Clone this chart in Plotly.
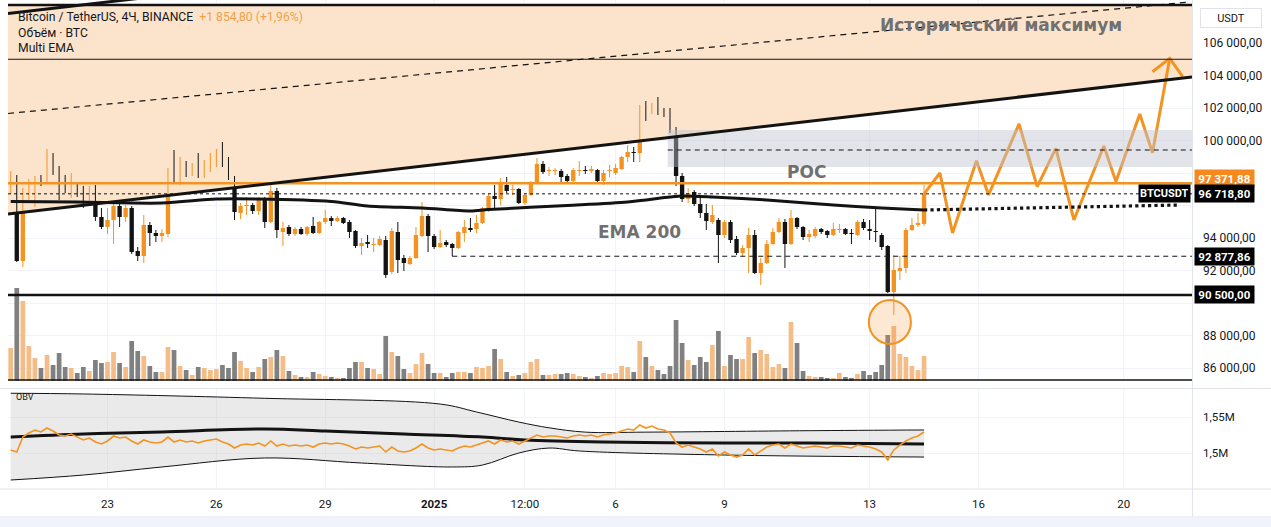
import plotly.graph_objects as go
import pandas as pd

# ---------------- DATA ----------------
start_time = "2024-12-20 08:00"
opens = [97016,97754,92585,96893,97016,97754,97385,98985,98247,97447,97201,97262,96954,96154,97016,95293,94677,95108,95970,95293,
         95847,93201,92893,94801,94308,94124,94247,98247,97385,98616,97939,98001,97816,98431,98985,99354,98924,97631,95539,95970,
         96031,95662,96462,94985,96893,94370,94677,94247,94554,94247,94739,94308,94985,95231,95047,95231,94985,94431,93508,93693,
         93570,93570,93877,91908,94370,92770,92401,92770,94124,95354,94124,93447,93754,93631,93385,94308,94616,94554,94924,95724,
         96585,96401,97262,96954,97016,96154,96647,97385,98554,98124,98124,98124,97816,97508,98124,98185,98124,98185,97508,98124,
         98001,98247,98985,99293,99231,102062,101693,102185,101693,101631,100770,97816,96401,96831,96093,95539,94985,95108,94185,94985,
         93939,93077,93385,94185,91847,92462,93631,94370,94985,93631,95231,94677,94062,94124,94554,94431,94185,94493,94554,94308,
         94185,94985,94493,94431,94185,93508,90677,91970,92154,94493,94801,94864]
highs = [98124,97877,97077,97631,97816,97877,99478,99231,98431,97877,98001,97385,97201,97201,97262,95847,95847,96093,96093,96031,
         95970,93447,95416,94985,94493,94554,98308,99416,98985,98739,98616,99231,98801,99231,99478,99908,98985,97816,96154,96524,
         96154,96524,96524,97447,97077,94985,94801,94677,94677,94739,95293,95047,95724,95354,95354,95293,95108,94493,94001,94185,
         94001,94124,94124,94616,94985,92954,92893,94677,96216,95477,94247,94493,93877,93693,94431,95108,95231,95416,95908,96770,
         97262,97693,97754,97262,97077,96770,97508,98924,98739,98370,98308,98247,97939,98308,98739,98431,98431,98247,98185,98493,
         98554,99047,99724,99601,102185,102431,102308,102678,102001,102001,100831,98001,97077,96954,96585,96093,96031,95231,95108,95108,
         94124,93570,94616,94493,92770,93877,94616,95231,95170,95724,95293,94739,94493,94677,94616,94493,94924,94862,94616,94554,
         95108,95170,95108,95847,94308,93570,92954,92893,94616,95231,95539,97262]
lows = [96708,92524,92216,96339,95908,97201,97324,97877,96339,96770,96462,96524,95847,96031,95047,94554,94247,93631,94677,94985,
        93016,92585,92462,93508,93754,93754,94062,97385,97262,97754,97816,97693,97693,98062,98370,98370,97570,95108,95170,95416,
        95477,95416,94616,94924,94001,93508,94124,94124,94185,94124,94247,94247,94862,94739,94985,94862,94001,93385,92954,93385,
        93139,93508,91539,91785,91847,91970,92339,92708,94062,93139,93324,93385,93447,92877.86,93324,93754,94370,94308,94862,95601,
        95847,96031,96770,96647,96093,96031,96585,97324,97939,97816,97877,97447,97447,97447,97816,97939,98001,97447,97262,97754,
        97877,98185,98678,98678,98678,101201,101631,101570,101447,100462,97201,96216,96154,95970,95231,94493,94862,92462,94001,93693,
        92954,92893,91847,91785,91108,92401,93570,94308,92154,93570,94554,93877,93754,94001,94247,94001,94124,94308,94185,93631,
        94124,94493,93877,93754,93262,90616,89260,91416,91847,94431,94677,94739]
closes = [97754,92585,96954,97139,97754,97385,98985,98124,97385,97201,97324,96893,96154,97016,95293,94677,95108,95970,95293,95847,
          93139,92893,94801,94308,94124,94308,98247,97447,98616,97939,98001,97816,98493,98985,99354,98924,97631,95601,95970,96031,
          95662,96401,94985,96893,94493,94616,94247,94554,94247,94677,94308,94985,95231,95047,95231,94924,94370,93508,93693,93631,
          93631,93939,91724,94431,92647,92462,92770,94185,95354,94124,93447,93693,93570,93385,94370,94677,94493,94924,95847,96585,
          96401,97385,96893,97016,96154,96647,97385,98554,98062,98185,98185,97754,97508,98185,98185,98124,98247,97508,98001,98185,
          98308,98985,99293,99231,102124,101693,102185,101631,101631,100770,97816,96401,96770,96093,95539,95047,95416,94185,94985,93877,
          93077,93385,94185,91847,92462,93631,94370,94985,93631,95231,94677,94062,94247,94554,94370,94185,94554,94554,94247,94247,
          94985,94616,94431,94370,93447,90677,92031,92154,94493,94801,94864,96718.8]
# volume, thousands of BTC
volumes_k = [6.6,18.6,16.0,7.0,4.6,2.6,5.2,3.2,5.6,2.8,2.6,1.6,2.8,2.0,4.2,3.6,3.8,5.8,3.6,2.8,
             8.0,6.0,5.0,3.0,1.8,1.8,6.8,6.2,3.0,2.2,1.2,2.8,2.6,2.2,2.4,3.2,2.6,5.8,4.0,2.6,
             1.8,2.8,4.4,4.8,6.2,5.0,2.0,1.2,0.8,0.8,1.8,1.4,1.0,0.8,0.6,0.6,2.6,3.8,3.8,2.6,
             2.4,1.4,9.0,5.8,5.0,2.4,1.6,3.4,5.6,3.4,1.6,1.6,0.8,1.6,1.8,1.8,1.6,2.8,2.6,3.0,
             6.4,4.4,1.8,1.0,1.2,1.6,3.8,4.4,1.2,1.2,1.4,1.4,1.6,1.4,1.0,0.8,0.6,1.0,1.6,1.4,
             1.6,3.0,2.8,1.8,8.0,4.8,3.0,2.2,1.4,3.0,12.2,7.6,4.2,3.2,4.8,3.8,7.2,10.0,3.0,5.2,
             4.4,4.4,8.8,5.6,6.2,5.4,2.8,3.4,2.6,11.8,7.6,2.0,1.0,0.8,0.8,0.6,0.6,1.6,0.8,0.6,
             1.4,2.0,1.2,1.8,3.2,9.2,11.0,5.4,4.8,3.0,2.2,5.0]
# OBV, millions
obv_m = [1.5042,1.5014,1.5222,1.5278,1.5319,1.5292,1.5347,1.5306,1.5250,1.5236,1.5264,1.5222,1.5181,1.5208,1.5153,1.5125,1.5167,1.5236,1.5208,1.5222,
         1.5167,1.5125,1.5181,1.5153,1.5139,1.5153,1.5222,1.5153,1.5181,1.5153,1.5167,1.5139,1.5167,1.5181,1.5194,1.5153,1.5125,1.5069,1.5111,1.5125,
         1.5111,1.5139,1.5097,1.5167,1.5097,1.5125,1.5097,1.5111,1.5097,1.5111,1.5083,1.5125,1.5139,1.5125,1.5139,1.5125,1.5097,1.5056,1.5083,1.5069,
         1.5083,1.5097,1.5014,1.5083,1.5028,1.5014,1.5028,1.5069,1.5125,1.5069,1.5042,1.5056,1.5042,1.5028,1.5069,1.5097,1.5083,1.5111,1.5139,1.5167,
         1.5125,1.5181,1.5153,1.5167,1.5125,1.5167,1.5208,1.5250,1.5222,1.5236,1.5236,1.5222,1.5208,1.5236,1.5250,1.5236,1.5250,1.5222,1.5250,1.5264,
         1.5278,1.5306,1.5333,1.5319,1.5389,1.5347,1.5375,1.5333,1.5319,1.5278,1.5139,1.5083,1.5111,1.5083,1.5056,1.5014,1.5056,1.4958,1.5014,1.4972,
         1.4944,1.4972,1.5056,1.4972,1.5028,1.5083,1.5111,1.5125,1.5069,1.5125,1.5097,1.5069,1.5083,1.5097,1.5083,1.5069,1.5097,1.5097,1.5083,1.5069,
         1.5111,1.5097,1.5083,1.5056,1.5014,1.4903,1.5042,1.5111,1.5167,1.5208,1.5236,1.5292]
# OBV band (candle index, value in M)
band_up_idx = [0, 12, 42, 71, 77, 84, 89, 95, 105, 132, 151]
band_up_val = [1.583, 1.582, 1.576, 1.568, 1.557, 1.543, 1.535, 1.529, 1.529, 1.531, 1.532]
band_lo_idx = [0, 12, 25, 42, 58, 73, 78, 84, 89, 94, 118, 151]
band_lo_val = [1.4625, 1.4694, 1.4806, 1.4931, 1.4861, 1.4806, 1.4833, 1.500, 1.5069, 1.5028, 1.4972, 1.4944]
band_mid_idx = [0, 12, 25, 42, 52, 65, 78, 85, 98, 118, 132, 151]
band_mid_val = [1.5222, 1.5264, 1.5292, 1.5333, 1.5306, 1.5264, 1.5222, 1.5181, 1.5153, 1.5139, 1.5139, 1.5125]
# EMA 200 (candle index, price)
ema_idx = [0, 11, 25, 34, 41, 53, 59, 68, 76, 79, 92, 102, 109, 111, 116, 125, 136, 144, 151]
ema_val = [96246, 96216, 96154, 96400, 96400, 96246, 95969, 95846, 95662, 95754, 96000, 96216, 96523, 96585, 96523, 96339, 96031, 95846, 95723]
# forecast zigzag
zig_t = ["2025-01-14 12:00", "2025-01-14 22:30", "2025-01-15 06:50", "2025-01-15 22:40", "2025-01-16 06:40",
         "2025-01-17 02:50", "2025-01-17 14:50", "2025-01-18 03:10", "2025-01-18 15:05", "2025-01-19 10:55",
         "2025-01-19 18:55", "2025-01-20 10:40", "2025-01-20 19:05", "2025-01-21 06:30"]
zig_p = [96720, 98000, 94310, 98760, 96650, 101020, 97160, 99520, 95110, 99660, 97470, 101630, 99250, 105060]
arrow_t = ["2025-01-20 19:05", "2025-01-21 06:30", "2025-01-21 15:00"]
arrow_p = [104230, 105060, 103930]
# price levels
ath_price = 108340
level_105 = 105000
level_orange = 97371.88
last_price = 96718.80
support_1 = 92877.86
support_2 = 90500.00
poc_low, poc_mid, poc_high = 98370, 99416, 100647
# axis ticks
price_ticks = [86000, 88000, 90000, 92000, 94000, 96000, 98000, 100000, 102000, 104000, 106000]
hidden_ticks = [90000, 96000, 98000]   # covered by the price labels in the original
time_ticks = ["2024-12-23", "2024-12-26", "2024-12-29", "2025-01-01", "2025-01-03 12:00",
              "2025-01-06", "2025-01-09", "2025-01-13", "2025-01-16", "2025-01-20"]
time_labels = ["23", "26", "29", "<b>2025</b>", "12:00", "6", "9", "13", "16", "20"]

# ---------------- STYLE ----------------
ORANGE = "#F39322"
BLACK = "#131313"
VOL_UP = "#F4BC86"
VOL_DN = "#808080"
PEACH = "#FCE4CC"
GRID = "#F0F3FA"
TEXT = "#131722"
GRAYTXT = "#707070"
FONT = "Roboto"

X_LEFT = "2024-12-20 06:12"
X_RIGHT = "2025-01-21 21:12"
H4 = 4 * 3600 * 1000

times = pd.date_range(start_time, periods=len(opens), freq="4h")
W, H = 1271, 527
ML, MR, MT, MB = 8, 79, 0, 39
PW, PH = W - ML - MR, H - MT - MB


def px(x):
    return (x - ML) / PW


def py(y):
    return 1 - (y - MT) / PH


fig = go.Figure()

# peach zone above rising trendline
tr_p0, tr_p1 = 95477, 103908
fig.add_trace(go.Scatter(x=[X_LEFT, X_RIGHT, X_RIGHT, X_LEFT], y=[tr_p0, tr_p1, ath_price, ath_price],
                         mode="lines", fill="toself", fillcolor=PEACH, line=dict(width=0),
                         hoverinfo="skip", xaxis="x", yaxis="y"))

# candles: wicks
up = [c >= o for o, c in zip(opens, closes)]
for flag, col in [(True, ORANGE), (False, BLACK)]:
    wx, wy = [], []
    for i, t in enumerate(times):
        if up[i] == flag:
            wx += [t, t, None]
            wy += [lows[i], highs[i], None]
    fig.add_trace(go.Scatter(x=wx, y=wy, mode="lines", line=dict(color=col, width=1),
                             hoverinfo="skip", xaxis="x", yaxis="y"))
# candles: bodies
for flag, col in [(True, ORANGE), (False, BLACK)]:
    bx = [t for i, t in enumerate(times) if up[i] == flag]
    bb = [min(opens[i], closes[i]) for i in range(len(times)) if up[i] == flag]
    bh = [max(abs(closes[i] - opens[i]), 40) for i in range(len(times)) if up[i] == flag]
    fig.add_trace(go.Bar(x=bx, y=bh, base=bb, width=0.72 * H4, marker=dict(color=col, line=dict(width=0)),
                         hoverinfo="skip", xaxis="x", yaxis="y"))

# EMA 200
fig.add_trace(go.Scatter(x=[times[i] for i in ema_idx], y=ema_val, mode="lines",
                         line=dict(color=BLACK, width=3, shape="spline", smoothing=0.8),
                         hoverinfo="skip", xaxis="x", yaxis="y"))
# forecast zigzag
fig.add_trace(go.Scatter(x=zig_t, y=zig_p, mode="lines", line=dict(color=ORANGE, width=3),
                         hoverinfo="skip", xaxis="x", yaxis="y"))
fig.add_trace(go.Scatter(x=arrow_t, y=arrow_p, mode="lines", line=dict(color=ORANGE, width=3),
                         hoverinfo="skip", xaxis="x", yaxis="y"))

# volume
vcols = [VOL_UP if u else VOL_DN for u in up]
fig.add_trace(go.Bar(x=times, y=volumes_k, width=0.78 * H4, marker=dict(color=vcols, line=dict(width=0)),
                     hoverinfo="skip", xaxis="x", yaxis="y2"))

# OBV band
fig.add_trace(go.Scatter(x=[times[i] for i in band_up_idx], y=band_up_val, mode="lines",
                         line=dict(color=BLACK, width=1, shape="spline"), hoverinfo="skip", xaxis="x2", yaxis="y3"))
fig.add_trace(go.Scatter(x=[times[i] for i in band_lo_idx], y=band_lo_val, mode="lines",
                         line=dict(color=BLACK, width=1, shape="spline"), fill="tonexty",
                         fillcolor="rgba(190,190,190,0.33)", hoverinfo="skip", xaxis="x2", yaxis="y3"))
fig.add_trace(go.Scatter(x=[times[i] for i in band_mid_idx], y=band_mid_val, mode="lines",
                         line=dict(color=BLACK, width=3, shape="spline"), hoverinfo="skip", xaxis="x2", yaxis="y3"))
fig.add_trace(go.Scatter(x=times, y=obv_m, mode="lines", line=dict(color=ORANGE, width=1.6),
                         hoverinfo="skip", xaxis="x2", yaxis="y3"))

# ---------------- SHAPES ----------------
shapes = []


def hline(p, color=BLACK, width=1, dash="solid", x0=X_LEFT, x1=X_RIGHT, layer="above"):
    shapes.append(dict(type="line", xref="x", yref="y", x0=x0, x1=x1, y0=p, y1=p,
                       line=dict(color=color, width=width, dash=dash), layer=layer))


# POC box
shapes.append(dict(type="rect", xref="x", yref="y", x0="2025-01-07 10:30", x1=X_RIGHT, y0=poc_low, y1=poc_high,
                   fillcolor="rgba(190,196,208,0.45)", line=dict(width=0), layer="above"))
hline(poc_mid, dash="5px,4px", x0="2025-01-07 10:30")
hline(ath_price, width=2.5)
hline(level_105, width=1)
hline(level_orange, color=ORANGE, width=2.5)
hline(last_price, dash="dot", width=1)
hline(support_1, dash="5px,4px", x0=str(times[73]))
hline(support_2, width=2.5)
hline(85262, width=1.5)
# rising trendline
shapes.append(dict(type="line", xref="x", yref="y", x0=X_LEFT, x1=X_RIGHT, y0=tr_p0, y1=tr_p1,
                   line=dict(color=BLACK, width=3)))
# upper parallel (top-left)
shapes.append(dict(type="line", xref="x", yref="y", x0=X_LEFT, x1="2024-12-24 00:00", y0=107816, y1=108783,
                   line=dict(color=BLACK, width=3)))
# dashed parallel
shapes.append(dict(type="line", xref="x", yref="y", x0=X_LEFT, x1="2025-01-21 19:40", y0=101662, y1=108524,
                   line=dict(color=BLACK, width=1.2, dash="6px,5px")))
# EMA projection
shapes.append(dict(type="line", xref="x", yref="y", x0=str(times[-1]), x1="2025-01-21 13:00", y0=95723, y1=96031,
                   line=dict(color=BLACK, width=3.2, dash="dot")))
# circle
shapes.append(dict(type="circle", xref="x", yref="y", x0="2025-01-12 23:30", x1="2025-01-14 03:20",
                   y0=87477, y1=90185, fillcolor="rgba(247,150,60,0.22)", line=dict(color=ORANGE, width=2)))
# pane separators / frame
for yy, col in [(388.5, "#E0E3EB"), (489, "#E0E3EB"), (517, "#E0E3EB")]:
    shapes.append(dict(type="line", xref="paper", yref="paper", x0=0 - ML / PW, x1=1 + MR / PW,
                       y0=py(yy), y1=py(yy), line=dict(color=col, width=1)))
shapes.append(dict(type="line", xref="paper", yref="paper", x0=1.0005, x1=1.0005, y0=py(517), y1=1,
                   line=dict(color="#E0E3EB", width=1)))
shapes.append(dict(type="rect", xref="paper", yref="paper", x0=0 - ML / PW, x1=1 + MR / PW, y0=py(527), y1=py(517.5),
                   fillcolor="#F0F3FA", line=dict(width=0)))

# ---------------- ANNOTATIONS ----------------
ann = []
ann.append(dict(xref="paper", yref="paper", x=px(16), y=py(17), xanchor="left", yanchor="middle", showarrow=False,
                text='Bitcoin / TetherUS, 4Ч, BINANCE  <span style="color:#F2A04A">+1 854,80 (+1,96%)</span>',
                font=dict(size=12.2, color=TEXT, family=FONT)))
ann.append(dict(xref="paper", yref="paper", x=px(16), y=py(33), xanchor="left", yanchor="middle", showarrow=False,
                text="Объём · BTC", font=dict(size=12.2, color=TEXT, family=FONT)))
ann.append(dict(xref="paper", yref="paper", x=px(16), y=py(48), xanchor="left", yanchor="middle", showarrow=False,
                text="Multi EMA", font=dict(size=12.2, color=TEXT, family=FONT)))
ann.append(dict(xref="paper", yref="paper", x=px(14), y=py(397), xanchor="left", yanchor="middle", showarrow=False,
                text="OBV", font=dict(size=9, color=TEXT, family=FONT)))
big = dict(size=17, color=GRAYTXT, family="DejaVu Sans")
ann.append(dict(xref="x", yref="y", x="2025-01-16 15:00", y=107108, showarrow=False,
                text="<b>Исторический максимум</b>", font=big))
ann.append(dict(xref="x", yref="y", x="2025-01-06 16:00", y=94370, showarrow=False, text="<b>EMA 200</b>", font=big))
ann.append(dict(xref="x", yref="y", x="2025-01-11 06:00", y=98062, showarrow=False, text="<b>POC</b>", font=big))


def plabel(text, price, bg):
    ann.append(dict(xref="paper", yref="y", x=1 + 1.5 / PW, y=price, xanchor="left", yanchor="middle",
                    showarrow=False, text="<b>" + text + "</b>", bgcolor=bg, width=57, height=15, borderpad=1,
                    align="center", font=dict(size=11.5, color="white", family=FONT)))


plabel("97 371,88", 97693, "#F5891E")
plabel("96 718,80", last_price, "#000000")
plabel("92 877,86", support_1, "#000000")
plabel("90 500,00", support_2, "#000000")
ann.append(dict(xref="paper", yref="y", x=1 - 1 / PW, y=last_price, xanchor="right", yanchor="middle",
                showarrow=False, text="<b>BTCUSDT</b>", bgcolor="#000000", height=15, borderpad=1,
                font=dict(size=11, color="white", family=FONT)))
ann.append(dict(xref="paper", yref="paper", x=px(1231), y=py(18), xanchor="center", yanchor="middle",
                showarrow=False, text="USDT", bgcolor="white", bordercolor="#E0E3EB", borderwidth=1,
                width=58, height=16, font=dict(size=11, color=TEXT, family=FONT)))

main_bottom = 381
obv_top = 389

price_text = ["" if v in hidden_ticks else f"{v // 1000} {v % 1000:03d},00" for v in price_ticks]

fig.update_layout(
    width=W, height=H, margin=dict(l=ML, r=MR, t=MT, b=MB),
    paper_bgcolor="white", plot_bgcolor="white", showlegend=False, barmode="overlay",
    font=dict(family=FONT, size=11, color=TEXT),
    xaxis=dict(type="date", range=[X_LEFT, X_RIGHT], domain=[0, 1], anchor="y", showticklabels=False,
               tickvals=time_ticks, showgrid=True, gridcolor=GRID, zeroline=False, showline=False, fixedrange=True),
    yaxis=dict(domain=[py(main_bottom), 1], range=[85200, 108647], side="right", tickvals=price_ticks,
               ticktext=price_text, showgrid=True, gridcolor=GRID,
               zeroline=False, ticks="", ticklabelstandoff=10, tickfont=dict(size=12, color=TEXT)),
    yaxis2=dict(overlaying="y", range=[0, 76.2], visible=False),
    xaxis2=dict(type="date", matches="x", anchor="y3", domain=[0, 1], tickvals=time_ticks, ticktext=time_labels,
                showgrid=True, gridcolor=GRID, zeroline=False, showline=False, ticks="", ticklabelstandoff=7,
                tickfont=dict(size=11.5, color=TEXT)),
    yaxis3=dict(domain=[0, py(obv_top)], range=[1.4514, 1.5889], side="right", tickvals=[1.5, 1.55],
                ticktext=["1,5M", "1,55M"], showgrid=True, gridcolor=GRID, zeroline=False, ticks="",
                ticklabelstandoff=10, tickfont=dict(size=11.5, color=TEXT)),
    shapes=shapes, annotations=ann,
)

fig.write_html("out.html", config={"displayModeBar": False},
               post_script="document.body.style.margin='0';document.body.style.overflow='hidden';")
